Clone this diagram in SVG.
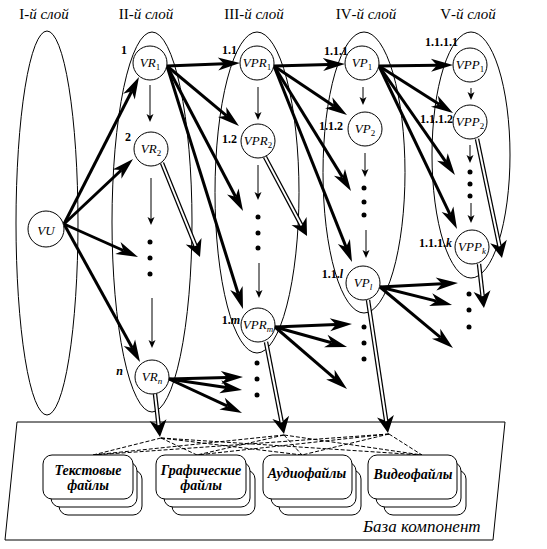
<svg xmlns="http://www.w3.org/2000/svg" width="547" height="549" viewBox="0 0 547 549">
<style>
text{font-family:"Liberation Serif","Times New Roman",serif;fill:#000}
.hdr{font-size:15px;text-anchor:middle}
.nl{font-size:13px;font-style:italic;text-anchor:middle}
.sub{font-size:9px;font-style:normal}
.subi{font-size:9px;font-style:italic}
.sl{font-size:12px;font-weight:bold;text-anchor:end}
.bx{font-size:14px;font-weight:bold;font-style:italic;text-anchor:middle}
.lay{fill:none;stroke:#000;stroke-width:1}
.nd{fill:#fff;stroke:#000;stroke-width:1}
.th{stroke:#000;stroke-width:3;fill:none;marker-end:url(#ah)}
.tn{stroke:#000;stroke-width:1;fill:none;marker-end:url(#as)}
.dbo{stroke:#000;stroke-width:4.5;fill:none;marker-end:url(#ad)}
.dbi{stroke:#fff;stroke-width:2;fill:none}
.ds{stroke:#000;stroke-width:1;stroke-dasharray:4 2;fill:none}
.bxr{fill:#fff;stroke:#000;stroke-width:1}
</style>
<defs>
<marker id="ah" markerUnits="userSpaceOnUse" orient="auto" overflow="visible" markerWidth="1" markerHeight="1" refX="0" refY="0"><path d="M16,0 L-6,-6.5 L0,0 L-6,6.5 Z" fill="#000"/></marker>
<marker id="as" markerUnits="userSpaceOnUse" orient="auto" overflow="visible" markerWidth="1" markerHeight="1" refX="0" refY="0"><path d="M6,0 L-2,-3.5 L0,0 L-2,3.5 Z" fill="#000"/></marker>
<marker id="ad" markerUnits="userSpaceOnUse" orient="auto" overflow="visible" markerWidth="1" markerHeight="1" refX="0" refY="0"><path d="M12,0 L-5,-8.5 L0,0 L-5,8.5 Z" fill="#000"/></marker>
</defs>
<rect width="547" height="549" fill="#fff"/>

<g id="headers">
<text class="hdr" x="44" y="19">I<tspan font-style="italic">-й слой</tspan></text>
<text class="hdr" x="146" y="19">II<tspan font-style="italic">-й слой</tspan></text>
<text class="hdr" x="254" y="19">III<tspan font-style="italic">-й слой</tspan></text>
<text class="hdr" x="366" y="19">IV<tspan font-style="italic">-й слой</tspan></text>
<text class="hdr" x="468" y="19">V<tspan font-style="italic">-й слой</tspan></text>
</g>

<g id="layers">
<ellipse class="lay" cx="47" cy="223" rx="31" ry="192"/>
<ellipse class="lay" cx="152" cy="222" rx="40" ry="190"/>
<ellipse class="lay" cx="257" cy="192.5" rx="42" ry="160.5"/>
<ellipse class="lay" cx="364" cy="172.5" rx="41" ry="140.5"/>
<ellipse class="lay" cx="471" cy="155" rx="39" ry="123"/>
</g>

<g id="base">
<polygon points="17,422 505,422 493,540 5,540" fill="none" stroke="#000" stroke-width="1"/>
<text x="363" y="532" font-size="17" font-style="italic">База компонент</text>
</g>

<g id="links-dashed">
<path class="ds" d="M161,438 L93,455 M161,438 L197,455 M161,438 L302,455 M161,438 L422,455"/>
<path class="ds" d="M284,435 L93,455 M284,435 L197,455 M284,435 L302,455 M284,435 L422,455"/>
<path class="ds" d="M389,434 L93,455 M389,434 L197,455 M389,434 L302,455 M389,434 L422,455"/>
</g>

<g id="comp-text">
<rect class="bxr" x="59" y="470" width="83" height="45" rx="9"/>
<rect class="bxr" x="51" y="462" width="86" height="45" rx="9"/>
<rect class="bxr" x="43" y="455" width="90" height="44" rx="9"/>
<text class="bx" x="88" y="475">Текстовые</text>
<text class="bx" x="88" y="490">файлы</text>
</g>
<g id="comp-graph">
<rect class="bxr" x="172" y="470" width="83" height="45" rx="9"/>
<rect class="bxr" x="164" y="462" width="86" height="45" rx="9"/>
<rect class="bxr" x="156" y="455" width="90" height="44" rx="9"/>
<text class="bx" x="201" y="475">Графические</text>
<text class="bx" x="201" y="490">файлы</text>
</g>
<g id="comp-audio">
<rect class="bxr" x="279" y="470" width="82" height="45" rx="9"/>
<rect class="bxr" x="271" y="462" width="85" height="45" rx="9"/>
<rect class="bxr" x="263" y="455" width="89" height="44" rx="9"/>
<text class="bx" x="307" y="478">Аудиофайлы</text>
</g>
<g id="comp-video">
<rect class="bxr" x="384" y="470" width="82" height="45" rx="9"/>
<rect class="bxr" x="376" y="462" width="85" height="45" rx="9"/>
<rect class="bxr" x="368" y="455" width="89" height="44" rx="9"/>
<text class="bx" x="413" y="479">Видеофайлы</text>
</g>

<g id="connectors">
<path class="th" d="M64,224 L131.7,91.3"/>
<path class="th" d="M64,224 L121.4,170"/>
<path class="th" d="M64,224 L123.4,250.5"/>
<path class="th" d="M64,224 L132.3,348"/>
<path class="th" d="M167,66 L224,63.7"/>
<path class="th" d="M167,66 L226.7,115.8"/>
<path class="th" d="M167,66 L235.6,196.8"/>
<path class="th" d="M167,66 L238.2,293.7"/>
<path class="th" d="M274,66 L329,64.4"/>
<path class="th" d="M274,66 L333.7,106.1"/>
<path class="th" d="M274,66 L342.6,177.4"/>
<path class="th" d="M274,66 L346.1,247.1"/>
<path class="th" d="M379,66 L437,65.2"/>
<path class="th" d="M379,66 L439.5,104.4"/>
<path class="th" d="M379,66 L445.8,161.9"/>
<path class="th" d="M379,66 L450.1,214.6"/>
<path class="th" d="M380,287 L442,283.8"/>
<path class="th" d="M380,287 L436.5,301.1"/>
<path class="th" d="M380,287 L440.7,337.7"/>
<path class="th" d="M275,327 L336,324.6"/>
<path class="th" d="M275,327 L331.6,342.7"/>
<path class="th" d="M275,327 L334.9,378.6"/>
<path class="th" d="M169,379 L227,377.4"/>
<path class="th" d="M169,379 L226.2,387.6"/>
<path class="th" d="M169,379 L227.5,406.2"/>
<path class="tn" d="M150,85 L150,116"/>
<path class="tn" d="M151,178 L151,219"/>
<path class="tn" d="M152,298 L152,342"/>
<path class="tn" d="M258,87 L258,114"/>
<path class="tn" d="M258,165 L258,194"/>
<path class="tn" d="M259,263 L259,292"/>
<path class="tn" d="M363,87 L363,99"/>
<path class="tn" d="M365,153 L365,171"/>
<path class="tn" d="M366,230 L366,252"/>
<path class="tn" d="M471,88 L471,94"/>
<path class="tn" d="M470,145 L470,157"/>
<path class="tn" d="M471,203 L471,217"/>
<path class="dbo" d="M162,163 L195.5,245.9"/><path class="dbi" d="M162,163 L195.5,245.9"/>
<path class="dbo" d="M265,157 L301.4,225.4"/><path class="dbi" d="M265,157 L301.4,225.4"/>
<path class="dbo" d="M477,139 L499.5,246.3"/><path class="dbi" d="M477,139 L499.5,246.3"/>
<path class="dbo" d="M479,264 L482.6,296.1"/><path class="dbi" d="M479,264 L482.6,296.1"/>
<path class="dbo" d="M155,394 L158.6,425.1"/><path class="dbi" d="M155,394 L158.6,425.1"/>
<path class="dbo" d="M266,342 L281.7,422.2"/><path class="dbi" d="M266,342 L281.7,422.2"/>
<path class="dbo" d="M368,300 L386.2,421.1"/><path class="dbi" d="M368,300 L386.2,421.1"/>
</g>

<g id="dots" fill="#000">
<circle cx="150" cy="242" r="2.5"/><circle cx="150" cy="258" r="2.5"/><circle cx="150" cy="274" r="2.5"/>
<circle cx="258" cy="217" r="2.5"/><circle cx="258" cy="233" r="2.5"/><circle cx="258" cy="248" r="2.5"/>
<circle cx="257" cy="363" r="2.5"/><circle cx="257" cy="379" r="2.5"/><circle cx="257" cy="395" r="2.5"/>
<circle cx="364" cy="188" r="2.5"/><circle cx="364" cy="202" r="2.5"/><circle cx="364" cy="215" r="2.5"/>
<circle cx="364" cy="327" r="2.5"/><circle cx="364" cy="343" r="2.5"/><circle cx="364" cy="359" r="2.5"/>
<circle cx="470" cy="172" r="2.5"/><circle cx="470" cy="184" r="2.5"/><circle cx="470" cy="196" r="2.5"/>
<circle cx="469" cy="294" r="2.5"/><circle cx="469" cy="310" r="2.5"/><circle cx="469" cy="327" r="2.5"/>
</g>

<g id="VU"><circle class="nd" cx="46" cy="229" r="18"/><text class="nl" x="46" y="235" font-size="17">VU</text></g>
<g id="VR1"><circle class="nd" cx="150" cy="63" r="17"/><text class="nl" x="150" y="67">VR<tspan class="sub" dy="3">1</tspan></text><text class="sl" x="127" y="54">1</text></g>
<g id="VR2"><circle class="nd" cx="151" cy="149" r="17"/><text class="nl" x="151" y="153">VR<tspan class="sub" dy="3">2</tspan></text><text class="sl" x="131" y="141">2</text></g>
<g id="VRn"><circle class="nd" cx="152" cy="377" r="17"/><text class="nl" x="152" y="381">VR<tspan class="subi" dy="3">n</tspan></text><text class="sl" x="123" y="375" font-style="italic">n</text></g>
<g id="VPR1"><circle class="nd" cx="257" cy="63" r="17"/><text class="nl" x="257" y="67">VPR<tspan class="sub" dy="3">1</tspan></text><text class="sl" x="237" y="54">1.1</text></g>
<g id="VPR2"><circle class="nd" cx="258" cy="141" r="17"/><text class="nl" x="258" y="145">VPR<tspan class="sub" dy="3">2</tspan></text><text class="sl" x="237" y="143">1.2</text></g>
<g id="VPRm"><circle class="nd" cx="258" cy="325" r="17"/><text class="nl" x="258" y="329">VPR<tspan class="subi" dy="3">m</tspan></text><text class="sl" x="240" y="324">1.<tspan font-style="italic">m</tspan></text></g>
<g id="VP1"><circle class="nd" cx="362" cy="63" r="17"/><text class="nl" x="362" y="67">VP<tspan class="sub" dy="3">1</tspan></text><text class="sl" x="348" y="55">1.1.1</text></g>
<g id="VP2"><circle class="nd" cx="365" cy="129" r="17"/><text class="nl" x="365" y="133">VP<tspan class="sub" dy="3">2</tspan></text><text class="sl" x="343" y="130">1.1.2</text></g>
<g id="VPl"><circle class="nd" cx="363" cy="283" r="17"/><text class="nl" x="363" y="287">VP<tspan class="subi" dy="3">l</tspan></text><text class="sl" x="343" y="278">1.1.<tspan font-style="italic">l</tspan></text></g>
<g id="VPP1"><circle class="nd" cx="470" cy="65" r="17"/><text class="nl" x="470" y="69">VPP<tspan class="sub" dy="3">1</tspan></text><text class="sl" x="458" y="46">1.1.1.1</text></g>
<g id="VPP2"><circle class="nd" cx="470" cy="122" r="17"/><text class="nl" x="470" y="126">VPP<tspan class="sub" dy="3">2</tspan></text><text class="sl" x="453" y="123">1.1.1.2</text></g>
<g id="VPPk"><circle class="nd" cx="472" cy="247" r="17"/><text class="nl" x="472" y="251">VPP<tspan class="subi" dy="3">k</tspan></text><text class="sl" x="452" y="247">1.1.1.<tspan font-style="italic">k</tspan></text></g>
</svg>
